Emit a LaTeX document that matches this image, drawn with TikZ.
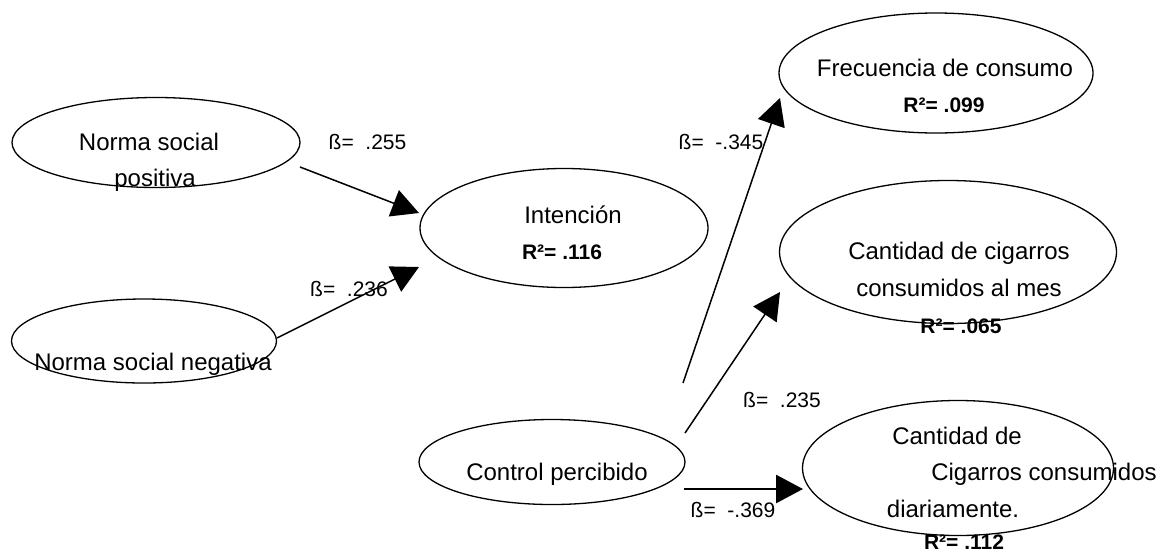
\documentclass[tikz,border=0pt]{standalone}
\usepackage{fontspec}
\setmainfont{Liberation Sans}
\usetikzlibrary{shapes.geometric,arrows.meta,calc}

\begin{document}
\begin{tikzpicture}[x=0.5pt,y=-0.5pt,
  oval/.style={ellipse,draw,line width=0.65pt,inner sep=0pt},
  lbl/.style={anchor=base,inner sep=0pt,font=\fontsize{12}{14}\selectfont},
  rsq/.style={anchor=base,inner sep=0pt,font=\fontsize{10.5}{12}\selectfont\bfseries},
  coef/.style={anchor=base,inner sep=0pt,font=\fontsize{10.5}{12}\selectfont},
  link/.style={line width=0.75pt,-{Triangle[length=13.5pt,width=14pt]}},
  heavylink/.style={link,line width=1.4pt}]

\useasboundingbox (0,0) rectangle (1159,552);

% latent variables
\node[oval,minimum width=144pt,minimum height=45pt]   (nsp) at (156,142.5) {};
\node[oval,minimum width=132.5pt,minimum height=42pt] (nsn) at (144,341) {};
\node[oval,minimum width=144pt,minimum height=59.5pt] (int) at (564,228) {};
\node[oval,minimum width=157pt,minimum height=60pt]   (fre) at (936,73) {};
\node[oval,minimum width=168.5pt,minimum height=71.5pt] (mes) at (948,252) {};
\node[oval,minimum width=133pt,minimum height=42.5pt] (ctl) at (552,462) {};
\node[oval,minimum width=155.5pt,minimum height=67.5pt] (dia) at (958,468) {};

% texts of the variables
\node[lbl] (nsp1) at (149,150) {Norma social};
\node[lbl] (nsp2) at (155,186) {positiva};
\node[lbl] (nsn1) at (153,370) {Norma social negativa};
\node[lbl] (int1) at (573,223) {Intención};
\node[rsq] (int2) at (562,259) {R²= .116};
\node[lbl] (fre1) at (945,76) {Frecuencia de consumo};
\node[rsq] (fre2) at (944,112) {R²= .099};
\node[lbl] (mes1) at (959,259) {Cantidad de cigarros};
\node[lbl] (mes2) at (959,296) {consumidos al mes};
\node[rsq] (mes3) at (961,333) {R²= .065};
\node[lbl] (ctl1) at (557,480) {Control percibido};
\node[lbl] (dia1) at (957,444) {Cantidad de};
\node[lbl] (dia2) at (1044,480) {Cigarros consumidos};
\node[lbl] (dia3) at (953,517) {diariamente.};
\node[rsq] (dia4) at (964,549) {R²= .112};

% paths
\draw[link] ($(nsp.center)+(144,24.5)$) -- ($(int.center)+(-145,-15)$);
\draw[link] ($(nsn.center)+(133,-3)$) -- ($(int.center)+(-145,39)$);
\draw[link] ($(ctl.center)+(131,-79)$) -- ($(fre.center)+(-156,25)$);
\draw[link] ($(ctl.center)+(133,-29)$) -- ($(mes.center)+(-168,40)$);
\draw[heavylink] ($(ctl.center)+(132,27)$) -- ($(dia.center)+(-155,21)$);

% path coefficients
\node[coef] (b1) at (367.5,149) {ß=~~.255};
\node[coef] (b2) at (349,296) {ß=~~.236};
\node[coef] (b3) at (721,149) {ß=~~-.345};
\node[coef] (b4) at (782,407) {ß=~~.235};
\node[coef] (b5) at (733,517) {ß=~~-.369};
\end{tikzpicture}
\end{document}
